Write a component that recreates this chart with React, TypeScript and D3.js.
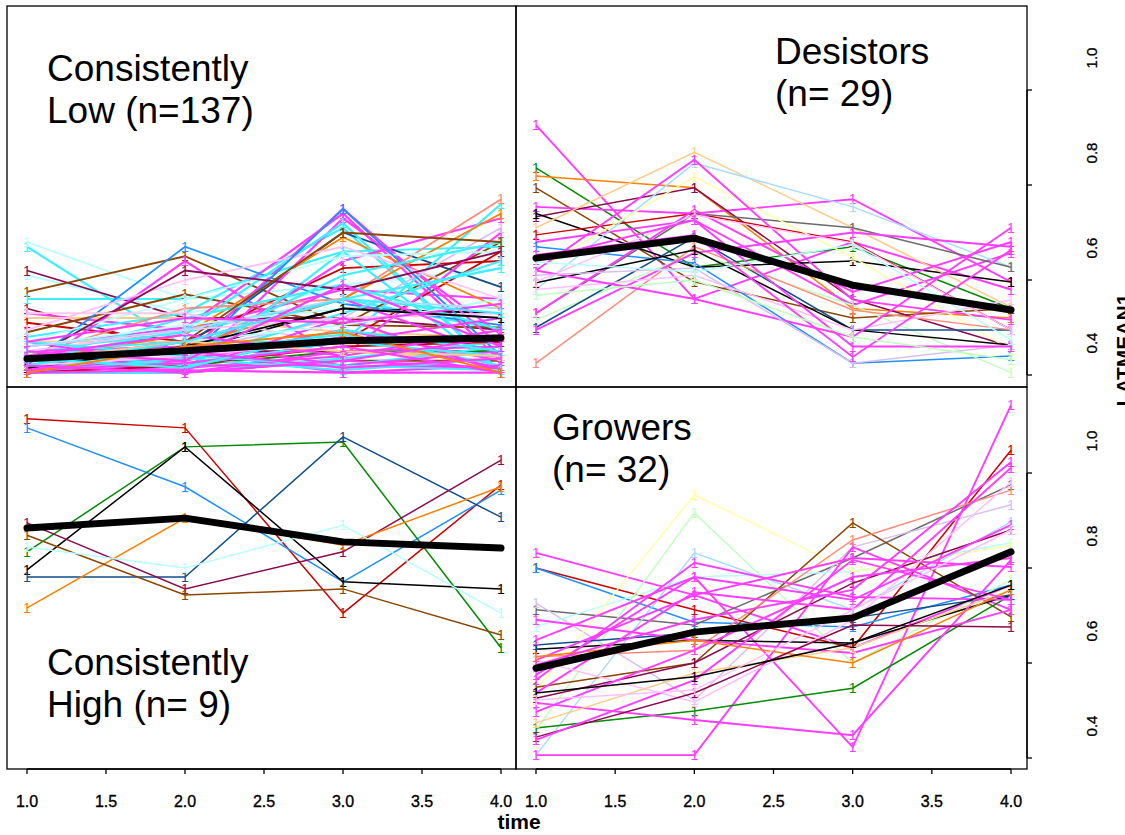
import React from "react";
import * as d3 from "d3";

// ---------------- DATA ----------------
const timePoints = [1, 2, 3, 4];
const xTickValues = [1.0, 1.5, 2.0, 2.5, 3.0, 3.5, 4.0];
const yTickValues = [0.4, 0.6, 0.8, 1.0];

const palette: Record<string, string> = {
  mg: "#FF3DFF", cy: "#3CF0FF", lc: "#B8FFFF", pk: "#FFC0FF", rd: "#CD0000",
  bl: "#1E90FF", nv: "#104E8B", br: "#8B4500", or: "#FF7F00", gr: "#008B00",
  mr: "#8B0A50", bk: "#000000", gy: "#6B6B6B", sa: "#FF8C7A", lo: "#FFCC8A",
  lb: "#A8DCFF", ly: "#FFFFA8", lg: "#BFFFBF", lv: "#D8BFF0", lp: "#FFC8E8",
};

// Consistently Low (n=137)
const lowColors = [
  "cy","lc","lc","mr","br","cy","mr","mg","lo","rd","br","cy","lo","mg","rd","bk","br","mg","bl","nv",
  "or","mg","mg","cy","mg","cy","mg","lv","sa","or","pk","cy","lc","bl","cy","cy","mr","lp","cy","mg",
  "br","cy","gr","mg","cy","mg","lc","mg","cy","mg","pk","mg","cy","mg","lc","mg","cy","mg","bk","rd",
  "cy","mg","pk","cy","mg","lo","mg","cy","mg","lb","mg","cy","mg","or","mg",
];
const lowValues = [
  [0.67,0.46,0.56,0.495],[0.68,0.56,0.59,0.625],[0.61,0.53,0.58,0.56],[0.62,0.52,0.52,0.495],
  [0.575,0.65,0.505,0.68],[0.56,0.56,0.66,0.67],[0.54,0.45,0.45,0.44],[0.53,0.495,0.58,0.56],
  [0.52,0.52,0.49,0.48],[0.51,0.47,0.625,0.64],[0.49,0.57,0.505,0.50],[0.48,0.53,0.71,0.405],
  [0.47,0.47,0.45,0.43],[0.46,0.50,0.74,0.43],[0.45,0.42,0.47,0.66],[0.435,0.45,0.54,0.53],
  [0.42,0.405,0.43,0.43],[0.405,0.64,0.43,0.415],[0.42,0.67,0.55,0.505],[0.44,0.46,0.70,0.585],
  [0.43,0.485,0.69,0.54],[0.41,0.44,0.75,0.46],[0.405,0.405,0.73,0.485],[0.43,0.495,0.72,0.405],
  [0.415,0.43,0.64,0.73],[0.45,0.47,0.47,0.76],[0.42,0.415,0.44,0.70],[0.41,0.45,0.52,0.71],
  [0.44,0.54,0.56,0.77],[0.43,0.46,0.56,0.74],[0.495,0.60,0.67,0.56],[0.405,0.405,0.66,0.405],
  [0.47,0.56,0.65,0.66],[0.42,0.43,0.75,0.44],[0.43,0.52,0.59,0.495],[0.45,0.49,0.56,0.625],
  [0.43,0.62,0.58,0.66],[0.53,0.53,0.46,0.47],[0.44,0.45,0.61,0.68],[0.43,0.47,0.56,0.44],
  [0.42,0.47,0.70,0.68],[0.415,0.43,0.53,0.64],[0.405,0.42,0.45,0.45],[0.435,0.45,0.405,0.405],
  [0.41,0.42,0.42,0.46],[0.45,0.46,0.47,0.52],[0.46,0.505,0.54,0.52],[0.42,0.43,0.495,0.43],
  [0.43,0.405,0.435,0.47],[0.41,0.435,0.48,0.415],[0.45,0.495,0.52,0.53],[0.47,0.42,0.42,0.45],
  [0.42,0.45,0.485,0.42],[0.415,0.41,0.52,0.405],[0.43,0.47,0.505,0.56],[0.44,0.405,0.45,0.46],
  [0.405,0.435,0.41,0.435],[0.43,0.47,0.42,0.415],[0.415,0.46,0.54,0.52],[0.405,0.42,0.46,0.47],
  [0.45,0.42,0.47,0.44],[0.405,0.41,0.405,0.42],[0.42,0.44,0.47,0.485],[0.47,0.44,0.42,0.41],
  [0.44,0.485,0.44,0.495],[0.43,0.47,0.45,0.44],[0.41,0.425,0.46,0.405],[0.435,0.415,0.495,0.45],
  [0.43,0.45,0.415,0.435],[0.46,0.495,0.56,0.54],[0.47,0.52,0.51,0.55],[0.42,0.47,0.56,0.53],
  [0.45,0.43,0.59,0.46],[0.405,0.46,0.49,0.405],[0.42,0.405,0.43,0.48],
];
const lowMean = [0.434, 0.451, 0.472, 0.478];

// Desistors (n=29)
const desColors = [
  "mg","gr","or","br","mg","mr","bk","lo","rd","mg","bl","lb","gy","ly","mg","mg","lg","nv","sa","mg",
  "bk","pk","pk","mg","lv","mg","lc","mg","lg",
];
const desValues = [
  [0.926,0.56,0.68,0.58],[0.836,0.627,0.67,0.54],[0.819,0.794,0.54,0.52],[0.794,0.596,0.52,0.54],
  [0.754,0.74,0.77,0.596],[0.733,0.794,0.56,0.46],[0.74,0.627,0.64,0.596],[0.71,0.869,0.71,0.543],
  [0.695,0.74,0.68,0.495],[0.68,0.726,0.547,0.657],[0.67,0.636,0.425,0.44],[0.58,0.846,0.754,0.627],
  [0.53,0.74,0.71,0.627],[0.62,0.817,0.648,0.453],[0.62,0.853,0.558,0.516],[0.53,0.747,0.575,0.68],
  [0.516,0.657,0.547,0.405],[0.50,0.69,0.495,0.495],[0.425,0.67,0.537,0.495],[0.495,0.657,0.70,0.67],
  [0.594,0.663,0.495,0.463],[0.596,0.737,0.678,0.495],[0.58,0.61,0.495,0.558],[0.62,0.56,0.48,0.71],
  [0.61,0.625,0.425,0.463],[0.642,0.726,0.46,0.46],[0.638,0.617,0.674,0.474],[0.653,0.695,0.438,0.663],
  [0.568,0.60,0.48,0.432],
];
const desMean = [0.646, 0.688, 0.589, 0.537];

// Consistently High (n=9)
const highColors = ["rd","bl","gr","bk","nv","mr","or","br","lc"];
const highValues = [
  [1.114,1.095,0.705,0.975],[1.095,0.971,0.771,0.964],[0.834,1.055,1.065,0.632],
  [0.796,1.055,0.771,0.756],[0.781,0.781,1.076,0.907],[0.895,0.756,0.834,1.027],
  [0.716,0.905,0.848,0.971],[0.869,0.743,0.756,0.659],[0.844,0.80,0.89,0.705],
];
const highMean = [0.884, 0.905, 0.855, 0.842];

// Growers (n=32)
const growColors = [
  "mg","rd","bl","gy","lv","lc","lg","ly","lb","mg","mg","br","sa","gr","bk","nv",
  "mr","mg","mg","mg","mg","pk","mg","mg","lo","or","mg","mr","mg","mg","bk","pk",
];
const growValues = [
  [0.832,0.743,0.632,0.764],[0.80,0.712,0.632,1.048],[0.80,0.686,0.676,0.764],[0.712,0.68,0.821,0.975],
  [0.726,0.522,0.844,0.933],[0.676,0.781,0.792,0.853],[0.459,0.916,0.60,0.775],[0.543,0.954,0.792,0.848],
  [0.406,0.832,0.712,0.897],[0.406,0.406,0.844,0.712],[0.575,0.781,0.423,1.143],[0.549,0.60,0.895,0.697],
  [0.613,0.627,0.859,0.964],[0.463,0.499,0.547,0.743],[0.629,0.648,0.642,0.743],[0.638,0.663,0.695,0.743],
  [0.526,0.60,0.768,0.88],[0.516,0.48,0.448,0.817],[0.564,0.811,0.739,0.733],[0.537,0.749,0.712,1.011],
  [0.606,0.743,0.821,0.802],[0.606,0.518,0.691,0.981],[0.691,0.648,0.621,0.712],[0.648,0.781,0.733,0.891],
  [0.474,0.579,0.632,0.754],[0.613,0.648,0.60,0.754],[0.497,0.627,0.781,0.821],[0.444,0.537,0.68,0.676],
  [0.596,0.691,0.754,1.023],[0.438,0.564,0.817,0.733],[0.537,0.571,0.642,0.764],[0.522,0.543,0.712,0.88],
];
const growMean = [0.589, 0.665, 0.695, 0.834];

const lowTitle = ["Consistently", "Low (n=137)"];
const desTitle = ["Desistors", "(n= 29)"];
const highTitle = ["Consistently", "High (n= 9)"];
const growTitle = ["Growers", "(n= 32)"];

// ---------------- LAYOUT ----------------
const W = 1125;
const H = 835;
const FONT = "'Liberation Sans', Arial, Helvetica, sans-serif";

const xLeft = d3.scaleLinear().domain([1, 4]).range([27, 501]);
const xRight = d3.scaleLinear().domain([1, 4]).range([536, 1011]);
const yTop = d3.scaleLinear().domain([0.4, 1.0]).range([375, 90]);
const yBottom = d3.scaleLinear().domain([0.4, 1.0]).range([758, 473]);

type PanelProps = {
  colors: string[];
  values: number[][];
  mean: number[];
  xs: d3.ScaleLinear<number, number>;
  ys: d3.ScaleLinear<number, number>;
  box: [number, number, number, number];
  title: string[];
  titleX: number;
  titleY: number;
  lw: number;
};

function Panel({ colors, values, mean, xs, ys, box, title, titleX, titleY, lw }: PanelProps) {
  const line = d3
    .line<number>()
    .x((_, i) => xs(timePoints[i]))
    .y((v) => ys(v));
  return (
    <g>
      {values.map((vals, k) => {
        const col = palette[colors[k]];
        const w = colors[k] === "mg" || colors[k] === "cy" ? lw + 0.4 : lw;
        return (
          <g key={k}>
            <path d={line(vals) || ""} fill="none" stroke={col} strokeWidth={w} />
            {vals.map((v, i) => (
              <text
                key={i}
                x={xs(timePoints[i])}
                y={ys(v)}
                fill={col}
                fontSize={14}
                fontFamily={FONT}
                textAnchor="middle"
                dominantBaseline="central"
              >
                1
              </text>
            ))}
          </g>
        );
      })}
      <path
        d={line(mean) || ""}
        fill="none"
        stroke="#000"
        strokeWidth={7}
        strokeLinejoin="round"
        strokeLinecap="round"
      />
      <rect x={box[0]} y={box[1]} width={box[2] - box[0]} height={box[3] - box[1]} fill="none" stroke="#000" strokeWidth={1.3} />
      {title.map((t, i) => (
        <text key={i} x={titleX} y={titleY + i * 42} fontSize={37} fontFamily={FONT} fill="#000">
          {t}
        </text>
      ))}
    </g>
  );
}

function BottomAxis({ xs }: { xs: d3.ScaleLinear<number, number> }) {
  const y0 = 769;
  return (
    <g>
      <line x1={xs(1)} x2={xs(4)} y1={y0} y2={y0} stroke="#000" strokeWidth={1.3} />
      {xTickValues.map((t) => (
        <g key={t}>
          <line x1={xs(t)} x2={xs(t)} y1={y0} y2={y0 + 5} stroke="#000" strokeWidth={1.3} />
          <text x={xs(t)} y={807} fontSize={16} fontFamily={FONT} textAnchor="middle" fill="#000"
            stroke="#000" strokeWidth={0.35}>
            {d3.format(".1f")(t)}
          </text>
        </g>
      ))}
    </g>
  );
}

function RightAxis({ ys }: { ys: d3.ScaleLinear<number, number> }) {
  const x0 = 1027;
  return (
    <g>
      <line x1={x0} x2={x0} y1={ys(0.4)} y2={ys(1.0)} stroke="#000" strokeWidth={1.3} />
      {yTickValues.map((t) => (
        <g key={t}>
          <line x1={x0} x2={x0 + 5} y1={ys(t)} y2={ys(t)} stroke="#000" strokeWidth={1.3} />
          <text
            transform={`translate(1097,${ys(t) - 32}) rotate(-90)`}
            fontSize={15}
            fontFamily={FONT}
            textAnchor="middle"
            fill="#000"
            stroke="#000"
            strokeWidth={0.3}
          >
            {d3.format(".1f")(t)}
          </text>
        </g>
      ))}
    </g>
  );
}

export default function App() {
  return (
    <svg
      width={W}
      height={H}
      viewBox={`0 0 ${W} ${H}`}
      style={{ position: "absolute", left: 0, top: 0, background: "#fff" }}
    >
      <rect x={0} y={0} width={W} height={H} fill="#fff" />
      <Panel colors={lowColors} values={lowValues} mean={lowMean} xs={xLeft} ys={yTop}
        box={[7, 6, 516, 387]} title={lowTitle} titleX={47} titleY={81} lw={1.8} />
      <Panel colors={desColors} values={desValues} mean={desMean} xs={xRight} ys={yTop}
        box={[516, 6, 1027, 387]} title={desTitle} titleX={775} titleY={64} lw={1.5} />
      <Panel colors={highColors} values={highValues} mean={highMean} xs={xLeft} ys={yBottom}
        box={[7, 387, 516, 769]} title={highTitle} titleX={47} titleY={675} lw={1.5} />
      <Panel colors={growColors} values={growValues} mean={growMean} xs={xRight} ys={yBottom}
        box={[516, 387, 1027, 769]} title={growTitle} titleX={552} titleY={440} lw={1.5} />
      <BottomAxis xs={xLeft} />
      <BottomAxis xs={xRight} />
      <RightAxis ys={yTop} />
      <RightAxis ys={yBottom} />
      <text x={519} y={829} fontSize={21} fontWeight="bold" fontFamily={FONT} textAnchor="middle" fill="#000">
        time
      </text>
      <text
        transform="translate(1131,350) rotate(-90)"
        fontSize={21}
        fontWeight="bold"
        fontFamily={FONT}
        textAnchor="middle"
        fill="#000"
      >
        LATMEAN1
      </text>
    </svg>
  );
}
